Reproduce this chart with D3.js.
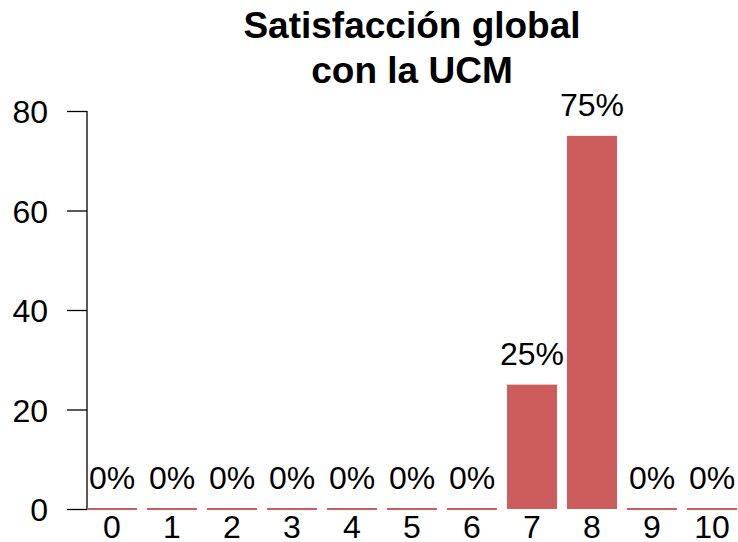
<!DOCTYPE html>
<html><head><meta charset="utf-8">
<script src="https://cdn.jsdelivr.net/npm/d3@7"></script>
<style>body{margin:0;background:#fff}svg{display:block;font-family:"Liberation Sans",Arial,sans-serif}</style>
</head><body><svg id="c" width="738" height="542"></svg>
<script>
const categories = ["0","1","2","3","4","5","6","7","8","9","10"];
const values = [0,0,0,0,0,0,0,25,75,0,0];
const labels = ["0%","0%","0%","0%","0%","0%","0%","25%","75%","0%","0%"];
const yTicks = [0,20,40,60,80];
const titleLines = ["Satisfacción global","con la UCM"];

const svg = d3.select("#c");
const y = d3.scaleLinear().domain([0,80]).range([509,111]);
const color = "#CD5C5C";
const x0 = d3.scaleLinear().domain([0,11]).range([87, 87+660]);
const bw = 50;
const fs = 32;

// y axis
const ya = svg.append("g").attr("transform","translate(87,0)")
  .call(d3.axisLeft(y).tickValues(yTicks).tickSize(20).tickPadding(19));
ya.select(".domain").attr("stroke","#000").attr("stroke-width",1.3).attr("d","M0,"+y(0)+"V"+y(80));
ya.selectAll(".tick line").attr("stroke","#000").attr("stroke-width",1.3);
ya.selectAll(".tick text").attr("font-size",fs).attr("fill","#000").attr("font-family","Liberation Sans, Arial, sans-serif").attr("dy","0.36em");

// bars
svg.append("g").selectAll("rect").data(values).join("rect")
  .attr("x",(d,i)=>x0(i)).attr("width",bw)
  .attr("y",d=>y(d)-(d===0?1:0)).attr("height",d=>Math.max(2,y(0)-y(d)))
  .attr("fill",color);

// value labels
svg.append("g").selectAll("text").data(values).join("text")
  .attr("x",(d,i)=>x0(i)+bw/2).attr("y",d=>y(d)-20)
  .attr("text-anchor","middle").attr("font-size",fs).attr("fill","#000")
  .text((d,i)=>labels[i]);

// x labels
svg.append("g").selectAll("text").data(categories).join("text")
  .attr("x",(d,i)=>x0(i)+bw/2).attr("y",538)
  .attr("text-anchor","middle").attr("font-size",fs).attr("fill","#000")
  .text(d=>d);

// title
svg.append("g").selectAll("text").data(titleLines).join("text")
  .attr("x",412).attr("y",(d,i)=>38+i*45)
  .attr("text-anchor","middle").attr("font-size",37).attr("font-weight","bold").attr("fill","#000")
  .text(d=>d);
</script></body></html>
